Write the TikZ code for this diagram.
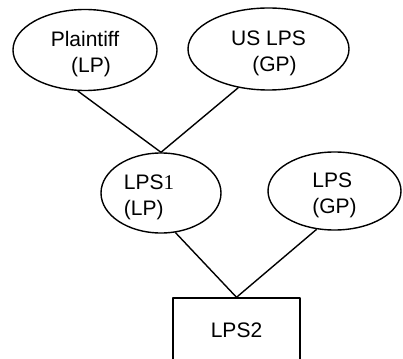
\documentclass[tikz,border=0pt]{standalone}
\usepackage{fontspec}
\setmainfont{Liberation Sans}
\newfontfamily\numserif{Liberation Serif}
\usepackage{tikz}
\definecolor{ink}{HTML}{000000}
\usetikzlibrary{
  positioning,
  shapes.geometric
}
% strut that pushes the two lines a little lower in their ellipse
\newcommand{\leadstrut}{\rule{0pt}{24pt}}
\tikzset{
  every picture/.style={line join=round},
  every node/.style={font=\fontsize{21}{26}\selectfont, text=ink},
  partner/.style={
    ellipse,
    draw=ink,
    line width=1.4pt,
    inner sep=0pt
  },
  entity/.style={
    rectangle,
    draw=ink,
    line width=1.4pt,
    inner sep=0pt,
    minimum width=127pt,
    minimum height=64pt
  },
  link/.style={line width=1.4pt, draw=ink}
}

\begin{document}
\begin{tikzpicture}[x=1pt, y=-1pt]
  \clip (0,0) rectangle (403,358);
  \fill[white] (0,0) rectangle (403,358);

  % upper partners
  \node[partner, minimum width=144pt, minimum height=81pt, align=center] (plaintiff) at (85,50)
    {\leadstrut Plaintiff\\\hspace*{12pt}(LP)};
  \node[partner, minimum width=161pt, minimum height=82pt, align=center] (uslps) at (268.5,49)
    {\leadstrut US LPS\\\hspace*{12pt}(GP)};

  % middle partners
  \node[partner, minimum width=120pt, minimum height=80pt, align=left] (lps1) at (161,193)
    {\leadstrut LPS{\numserif 1}\hspace*{24pt}\\(LP)};
  \node[partner, minimum width=133pt, minimum height=78pt, align=left] (lpsgp) at (334.5,191)
    {\leadstrut LPS\\(GP)};

  % partnership
  \node[entity] (lps2) at (236.5,330) {LPS2};

  \draw[link] (plaintiff.-100) -- (lps1.north);
  \draw[link] (uslps.-128) -- (lps1.north);
  \draw[link] (lps1.-70) -- (lps2.north);
  \draw[link] (lpsgp.-115) -- (lps2.north);
\end{tikzpicture}
\end{document}
